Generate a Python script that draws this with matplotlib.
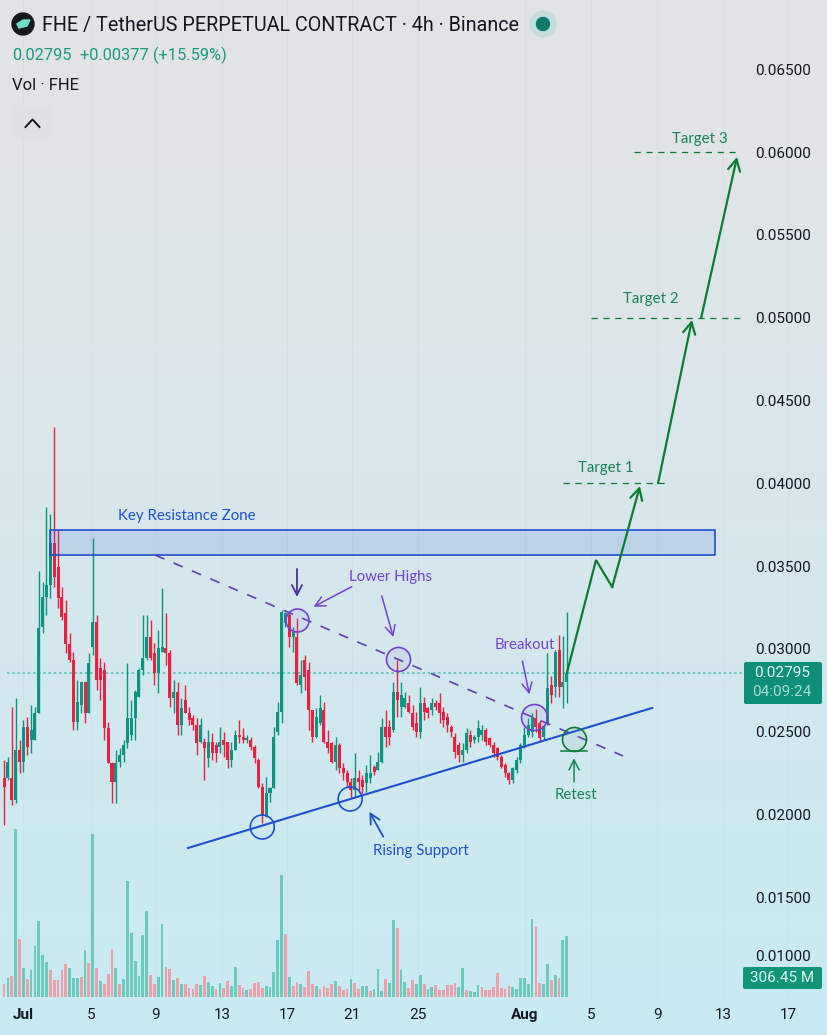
import numpy as np
import matplotlib
matplotlib.use("Agg")
import matplotlib.pyplot as plt
from matplotlib.colors import LinearSegmentedColormap
from matplotlib.patches import FancyBboxPatch, Circle, Polygon

W, H = 828, 1035
PRICE_UNIT = 1e-5

opens = [2218,2218,2218,2087,2389,2319,2530,2449,2449,2611,3134,3315,3386,3637,3496,3315,3214,3029,2933,2560,2661,2802,2611,3013,3164,2882,2872,2520,2309,2198,2319,2359,2429,2480,2580,2711,2872,2943,3073,2973,2852,2983,3003,2973,2701,2741,2540,2691,2611,2580,2540,2439,2439,2339,2439,2419,2409,2449,2439,2329,2389,2480,2470,2449,2449,2409,
 2328,2167,1986,2127,2157,2499,2620,3154,3204,3073,3073,2781,2932,2872,2630,2469,2550,2630,2439,2429,2318,2419,2278,2248,2197,2147,2217,2207,2187,2217,2288,2268,2318,2529,2529,2509,2741,2650,2650,2670,2610,2550,2499,2670,2640,2630,2670,2670,2620,2590,2529,2469,2419,2358,2389,2479,2449,2469,2479,2509,2459,2419,2399,2348,2298,2248,2207,2268,2328,2419,
 2480,2500,2580,2550,2470,2550,2782,2772,2993,2768,2802]
closes = [2168,2319,2087,2389,2319,2530,2409,2510,2611,3124,3315,3386,3637,3436,3305,3194,3029,2933,2560,2681,2802,2611,2912,3164,2812,2812,2520,2309,2198,2309,2359,2419,2580,2580,2741,2872,2943,3073,2943,2852,3003,3009,2973,2701,2741,2540,2641,2611,2570,2540,2429,2540,2399,2439,2369,2369,2439,2419,2329,2389,2480,2470,2449,2464,2409,2339,
 2167,1996,2127,2157,2469,2620,3224,3214,3073,3103,2791,2842,2831,2630,2469,2590,2640,2439,2399,2318,2419,2278,2248,2197,2147,2217,2197,2167,2248,2248,2258,2318,2529,2469,2469,2741,2691,2721,2701,2620,2529,2499,2670,2620,2610,2670,2650,2610,2570,2540,2499,2379,2358,2389,2489,2439,2469,2519,2509,2439,2419,2368,2348,2288,2248,2207,2278,2328,2419,2479,
 2540,2590,2530,2460,2534,2762,2721,2983,2768,2802,2856]
highs = [2329,2349,2651,2701,2449,2570,2590,2661,2651,3472,3402,3855,3812,4338,3718,3375,3295,3094,2983,2812,2802,2802,2973,3667,3204,2943,2923,2560,2319,2389,2399,2449,2912,2691,2751,2882,3204,3204,3174,3033,3114,3365,3219,2993,2812,2802,2701,2782,2651,2600,2580,2580,2460,2510,2490,2439,2530,2500,2439,2439,2510,2570,2520,2480,2470,2419,
 2338,2187,2228,2167,2529,2680,3234,3224,3214,3133,3184,2932,2962,2922,2630,2640,2721,2680,2509,2439,2469,2429,2308,2268,2217,2368,2268,2238,2298,2358,2298,2379,2580,2630,2570,2801,2932,2801,2741,2721,2660,2620,2771,2711,2650,2701,2691,2731,2650,2610,2540,2489,2439,2429,2519,2509,2479,2570,2540,2519,2469,2439,2409,2358,2308,2258,2288,2348,2429,2529,
 2580,2611,2635,2570,2540,2973,2836,2993,3084,3078,3225]
lows = [1936,2208,2057,2067,2248,2258,2359,2369,2449,2611,3094,3204,3305,3375,3245,3174,2973,2923,2510,2510,2611,2550,2611,2963,2751,2691,2449,2309,2067,2067,2288,2319,2399,2449,2449,2711,2842,2933,2933,2782,2731,2983,2902,2651,2611,2480,2480,2611,2540,2510,2359,2429,2208,2288,2329,2319,2369,2349,2278,2288,2389,2429,2429,2429,2389,2309,
 2157,1946,1986,2077,2157,2479,2550,3133,3013,2982,2781,2731,2751,2509,2439,2459,2540,2429,2368,2308,2268,2248,2207,2167,2097,2097,2127,2127,2137,2187,2238,2268,2308,2409,2419,2499,2590,2590,2640,2610,2509,2469,2459,2570,2580,2600,2630,2550,2529,2499,2469,2338,2318,2318,2368,2409,2429,2439,2449,2419,2409,2348,2328,2278,2228,2183,2191,2248,2308,2399,
 2470,2470,2500,2439,2450,2540,2671,2711,2711,2641,2671]

volumes = [67,97,105,845,290,147,92,134,256,380,209,174,134,87,87,134,167,146,97,94,100,238,171,820,144,79,67,117,243,146,67,92,581,323,181,105,310,432,109,67,100,368,151,139,84,95,67,67,47,40,67,62,104,75,55,42,70,45,79,55,151,59,45,33,42,70,77,47,54,49,124,288,611,318,100,55,74,67,49,131,67,54,38,54,44,64,79,55,33,38,92,69,42,55,55,30,42,139,30,92,72,388,348,134,75,47,84,64,112,67,38,50,60,35,33,60,60,72,49,147,37,28,25,59,50,33,33,52,122,47,38,57,49,38,94,94,67,390,350,70,67,167,84,112,97,285,306.45]
volume_dir = "rgrgrgrggg" "ggrrrrrggg" "rgrgrgrrrg" "rgggggggrr" "ggrrgrgrrr" "rgrggrgrrg" "grrgrrrrgg" "gggrgrrgrr" "rgrrrrgrrr" "grrggrgg" "g" "rggrggrrgg" "rggrrrrrrggrg" "g" "grrrrrrrr" "ggggggrrggrgrgg"

# the 0.01000 label sits higher than its price in the reference: the volume tag pushes it up
price_ticks = [0.065, 0.06, 0.055, 0.05, 0.045, 0.04, 0.035, 0.03, 0.025, 0.02, 0.015, 0.01145]
price_tick_labels = ["0.06500","0.06000","0.05500","0.05000","0.04500","0.04000","0.03500","0.03000","0.02500","0.02000","0.01500","0.01000"]
date_ticks = [4.9, 22.55, 39.4, 56.6, 73.4, 90.3, 107.4, 135.2, 152.3, 169.5, 186.6, 203.5]
date_labels = ["Jul","5","9","13","17","21","25","Aug","5","9","13","17"]

last_price_line = 0.02854
zone_bars = [11.9, 184.5]
zone_prices = [0.03566, 0.03717]
falling_bars = [39.2, 160.6]
falling_prices = [0.03566, 0.02353]
rising_bars = [47.7, 168.2]
rising_prices = [0.01797, 0.02643]
path_bars = [146.1, 153.6, 157.8]
path_prices = [0.0286, 0.03536, 0.03373]
target_prices = [0.04, 0.05, 0.06]
target_starts = [145.1, 152.3, 163.5]
target_ends = [171.5, 191.0, 191.0]

GREEN, RED = "#0d9480", "#e9203f"
VOL_G, VOL_R = "#6ccabb", "#ee9fac"
PURPLE, DPURPLE, BLUE = "#7442cf", "#4b2fa0", "#1f50d2"
DGREEN, TGREEN = "#0b7c35", "#1c8257"
HAND = "Lato"
plt.rcParams["font.family"] = ["Roboto", "DejaVu Sans"]

fig = plt.figure(figsize=(W / 100, H / 100), dpi=100)

bg = fig.add_axes([0, 0, 1, 1], zorder=0)
bg.axis("off")
cmap = LinearSegmentedColormap.from_list("bg", ["#e3e3e5", "#dde6ea", "#d2e8ee", "#c8ebf3"])
bg.imshow(np.linspace(0, 1, 256).reshape(-1, 1), aspect="auto", cmap=cmap, extent=[0, 1, 0, 1], origin="upper")

axb = 1001
xlim = (-1.064, 213.8)
ylim = (0.008732, 0.069179)
rect = [0, (H - axb) / H, 1, axb / H]

vax = fig.add_axes(rect, zorder=1, facecolor="none")
vax.set_xlim(*xlim)
vax.set_ylim(-20, 5005)
vax.axis("off")
idx = np.arange(len(closes))
vax.bar(idx, volumes, width=0.72, color=[VOL_G if d == "g" else VOL_R for d in volume_dir], linewidth=0)

ax = fig.add_axes(rect, zorder=2, facecolor="none")
ax.set_xlim(*xlim)
ax.set_ylim(*ylim)
for s in ax.spines.values():
    s.set_visible(False)
ax.set_yticks(price_ticks, price_tick_labels)
ax.set_xticks(date_ticks, date_labels)
ax.tick_params(axis="y", length=0, labelright=True, labelleft=False, pad=-52.6, labelsize=11, labelcolor="#131722")
ax.tick_params(axis="x", length=0, pad=5, labelsize=11, labelcolor="#131722")
for lab in ax.get_xticklabels():
    if lab.get_text() in ("Jul", "Aug"):
        lab.set_fontweight("bold")
ax.grid(True, axis="x", color="#40606a", alpha=0.03, lw=0.8)

o, c, h, l = [np.array(a) * PRICE_UNIT for a in (opens, closes, highs, lows)]
colors = np.where(c >= o, GREEN, RED)
ax.vlines(idx, l, h, colors=colors, lw=1.0, zorder=3)
ax.bar(idx, np.abs(c - o), bottom=np.minimum(o, c), width=0.78, color=colors, linewidth=0, zorder=3)

ax.axhline(last_price_line, xmin=0.008, xmax=0.9, color="#45bfae", lw=1.1, ls=(0, (1.6, 1.8)), zorder=2)

ax.fill_between(zone_bars, zone_prices[0], zone_prices[1], facecolor=(0.25, 0.42, 0.8, 0.17), edgecolor="none", zorder=4)
ax.plot([zone_bars[0], zone_bars[1], zone_bars[1], zone_bars[0], zone_bars[0]],
        [zone_prices[0], zone_prices[0], zone_prices[1], zone_prices[1], zone_prices[0]], color=BLUE, lw=1.2, zorder=4)
ax.plot(falling_bars, falling_prices, color="#5d3db0", lw=1.2, ls=(0, (6, 6)), zorder=5)
ax.plot(rising_bars, rising_prices, color=BLUE, lw=1.5, zorder=5)


def circ(bar, price, r_px, edge, fill="none"):
    d_pt = 2 * r_px * 0.72
    ax.scatter([bar], [price], s=d_pt ** 2, facecolor=fill, edgecolor=edge, linewidth=1.2, zorder=6)


PFILL = (0.55, 0.45, 0.85, 0.1)
circ(76, 0.03174, 11.5, PURPLE, PFILL)
circ(102.2, 0.02938, 12, PURPLE, PFILL)
circ(137.5, 0.02588, 13, PURPLE, PFILL)
circ(67, 0.01924, 12, BLUE)
circ(89.8, 0.02093, 12, BLUE)
circ(147.9, 0.02455, 12, DGREEN, (0.4, 0.6, 0.6, 0.1))
ax.plot([144.6, 151.3], [0.02383, 0.02383], color=DGREEN, lw=1.1, zorder=6)


def arrow(b0, p0, b1, p1, color, lw=1.1, hw=0.33, hl=0.65):
    ax.annotate("", xy=(b1, p1), xytext=(b0, p0), zorder=7,
                arrowprops=dict(arrowstyle=f"->,head_width={hw},head_length={hl}", color=color, lw=lw,
                                shrinkA=0, shrinkB=0, mutation_scale=11))


arrow(76, 0.03482, 76, 0.03313, DPURPLE, 1.3)
arrow(90.2, 0.03375, 80.3, 0.03254, PURPLE)
arrow(98, 0.03319, 101, 0.03071, PURPLE)
arrow(134.5, 0.02926, 136.3, 0.02725, PURPLE)
arrow(98.4, 0.01865, 94.8, 0.02016, BLUE, 1.3)
arrow(147.9, 0.02197, 147.9, 0.02339, TGREEN)

ax.plot(path_bars, path_prices, color=DGREEN, lw=1.6, zorder=6, solid_joinstyle="miter")
arrow(157.8, 0.03373, 165.0, 0.03983, DGREEN, 1.6, 0.4, 0.75)
arrow(169.7, 0.04, 178.5, 0.04986, DGREEN, 1.6, 0.4, 0.75)
arrow(180.9, 0.05, 190.2, 0.0597, DGREEN, 1.6, 0.4, 0.75)

for p, a, b in zip(target_prices, target_starts, target_ends):
    ax.plot([a, b], [p, p], color=DGREEN, lw=0.9, ls=(0, (5, 4.5)), zorder=5)


NOTE_SHIFT = 0.00009


def note(bar, price, s, color, size=10.8):
    ax.text(bar, price - NOTE_SHIFT, s, color=color, fontsize=size, family=HAND, ha="center", va="center", zorder=8)


note(156.2, 0.04098, "Target 1", TGREEN)
note(167.9, 0.05124, "Target 2", TGREEN)
note(180.6, 0.06085, "Target 3", TGREEN)
note(47.5, 0.03808, "Key Resistance Zone", BLUE)
note(100.2, 0.0344, "Lower Highs", PURPLE)
note(108.2, 0.01791, "Rising Support", BLUE)
note(148.4, 0.02129, "Retest", TGREEN)
note(135, 0.03029, "Breakout", PURPLE)

ui = fig.add_axes([0, 0, 1, 1], zorder=5, facecolor="none")
ui.set_xlim(0, W)
ui.set_ylim(H, 0)
ui.axis("off")

ui.add_patch(Circle((23, 24), 11, color="#15191d"))
ui.add_patch(Polygon([[17, 24], [23, 20], [30, 20], [27, 26], [19, 28]], color="#6fe0c8"))
ui.text(42, 25.5, "FHE / TetherUS PERPETUAL CONTRACT · 4h · Binance", fontsize=14.25, color="#131722", va="center", ha="left")
ui.add_patch(Circle((543, 24), 13, color="#c5dcdb"))
ui.add_patch(Circle((543, 24), 6.5, color="#0b7a6b"))
ui.text(12, 55.5, "0.02795", fontsize=11.8, color="#1a9a84", va="center", ha="left")
ui.text(80, 55.5, "+0.00377 (+15.59%)", fontsize=11.8, color="#1a9a84", va="center", ha="left")
ui.text(12, 85, "Vol · FHE", fontsize=12, color="#131722", va="center", ha="left")
ui.add_patch(FancyBboxPatch((12, 106), 40, 33, boxstyle="round,pad=0,rounding_size=4", fc="#dfe1e3", ec="none"))
ui.plot([25.5, 32.5, 39.5], [127, 119.5, 127], color="#131722", lw=1.4)

ui.add_patch(FancyBboxPatch((744, 662), 78, 42, boxstyle="round,pad=0,rounding_size=2", fc="#0e8f7a", ec="none"))
ui.text(782, 673, "0.02795", fontsize=11, color="#e4f5f1", ha="center", va="center")
ui.text(782, 692, "04:09:24", fontsize=11, color="#a8dccf", ha="center", va="center")
ui.add_patch(FancyBboxPatch((743, 967), 79, 22, boxstyle="round,pad=0,rounding_size=2", fc="#0f9678", ec="none"))
ui.text(782, 978, "306.45 M", fontsize=11, color="#e4f5f1", ha="center", va="center")

fig.savefig("out.png", dpi=100)
